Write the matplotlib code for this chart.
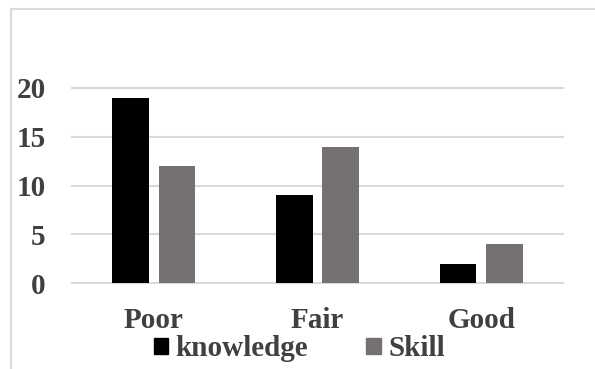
import matplotlib.pyplot as plt
import numpy as np
from matplotlib.patches import Patch
from matplotlib.lines import Line2D

# chart data
categories = ['Poor', 'Fair', 'Good']
knowledge = [19, 9, 2]
skill = [12, 14, 4]

text_color = '#404040'
grid_color = '#d9d9d9'
plt.rcParams['font.family'] = 'Liberation Serif'
plt.rcParams['font.weight'] = 'bold'
fs = 21

fig = plt.figure(figsize=(5.95, 3.69), dpi=100)
ax = fig.add_axes([72 / 595, 1 - 283 / 369, 491 / 595, 195 / 369])

x = np.arange(len(categories))
w = 0.224
ax.bar(x - 0.142, knowledge, width=w, color='black', label='knowledge', zorder=3)
ax.bar(x + 0.142, skill, width=w, color='#767171', label='Skill', zorder=3)

ax.set_xlim(-0.5, 2.5)
ax.set_ylim(0, 20)
ax.set_yticks([0, 5, 10, 15, 20])
ax.set_xticks(x)
ax.set_xticklabels(categories)
ax.tick_params(axis='both', length=0, labelsize=fs, labelcolor=text_color)
ax.tick_params(axis='y', pad=19)
ax.tick_params(axis='x', pad=17)
ax.yaxis.grid(True, color=grid_color, linewidth=1.5, zorder=0)
for gl in ax.get_ygridlines():
    gl.set_clip_on(False)
for s in ax.spines.values():
    s.set_visible(False)

# outer chart border (top and left visible)
fig.add_artist(Line2D([11 / 595, 11 / 595], [0, 1 - 9 / 369], color=grid_color, linewidth=1.5))
fig.add_artist(Line2D([11 / 595, 1], [1 - 9 / 369, 1 - 9 / 369], color=grid_color, linewidth=1.5))

handles = [Patch(color='black'), Patch(color='#767171')]
fig.legend(handles, ['knowledge', 'Skill'], loc='center', bbox_to_anchor=(0.503, 1 - 349 / 369),
           ncol=2, frameon=False, fontsize=fs, labelcolor=text_color,
           handlelength=0.5, handleheight=0.5, handletextpad=0.25, columnspacing=2.0,
           borderpad=0, borderaxespad=0)

fig.savefig('out.png', dpi=100)
